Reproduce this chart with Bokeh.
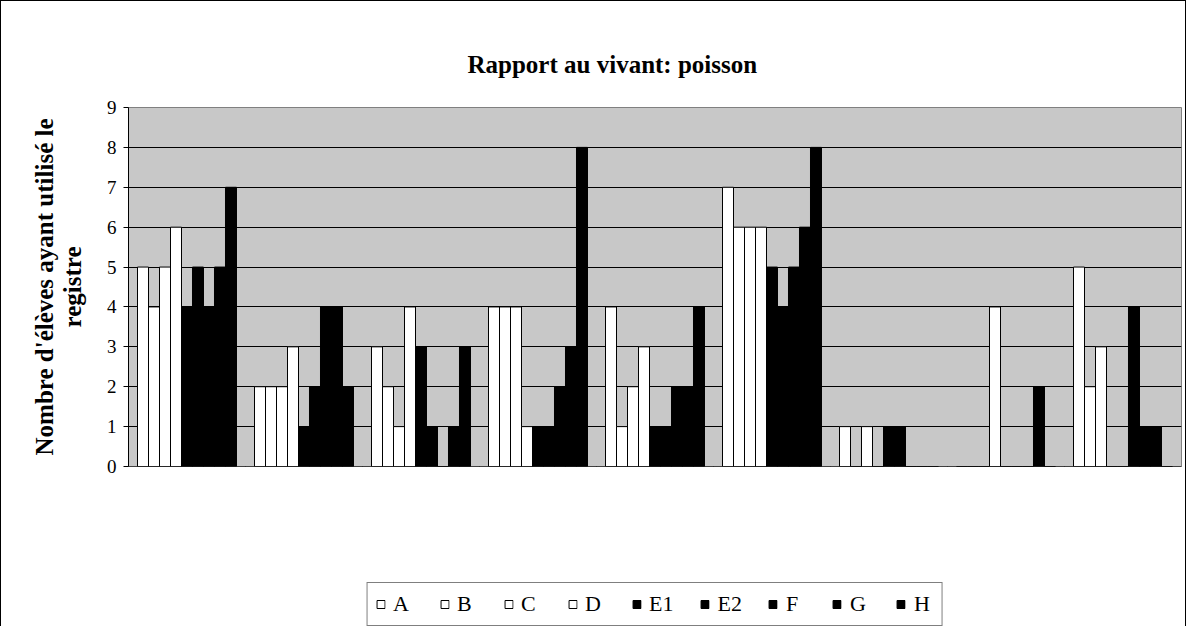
import numpy as np
from bokeh.plotting import figure
from bokeh.models import ColumnDataSource, FixedTicker, Range1d, Legend, LegendItem
from bokeh.transform import dodge
from bokeh.embed import file_html
from bokeh.resources import INLINE

categories = ["Aps", "AR", "Arp", "P", "Cc", "Ci", "Cs", "I", "A"]
series = ["A", "B", "C", "D", "E1", "E2", "F", "G", "H"]
A  = [5, 2, 3, 4, 4, 7, 1, 0, 5]
B  = [4, 2, 2, 4, 1, 6, 0, 0, 2]
C  = [5, 2, 1, 4, 2, 6, 1, 0, 3]
D  = [6, 3, 4, 1, 3, 6, 0, 4, 0]
E1 = [4, 1, 3, 1, 1, 5, 1, 0, 0]
E2 = [5, 2, 1, 1, 1, 4, 1, 0, 4]
F  = [4, 4, 0, 2, 2, 5, 0, 0, 1]
G  = [5, 4, 1, 3, 2, 6, 0, 2, 1]
H  = [7, 2, 3, 8, 4, 8, 0, 0, 0]
y_ticks = [0, 1, 2, 3, 4, 5, 6, 7, 8, 9]

values = {"A": A, "B": B, "C": C, "D": D, "E1": E1, "E2": E2, "F": F, "G": G, "H": H}
fills = {"A": "white", "B": "white", "C": "white", "D": "white",
         "E1": "black", "E2": "black", "F": "black", "G": "black", "H": "black"}

SERIF = "Liberation Serif"
n = len(categories)
centers = np.arange(n) + 0.5
data = {"x": centers}
data.update(values)
src = ColumnDataSource(data)

p = figure(frame_width=1053, frame_height=359, x_range=Range1d(0, n), y_range=Range1d(0, 9),
           output_backend="svg", toolbar_location=None,
           title="Rapport au vivant: poisson",
           min_border_left=127, min_border_right=4, min_border_top=106, min_border_bottom=158)
p.styles = {"border": "1px solid black"}
p.background_fill_color = "#C8C8C8"
p.border_fill_color = "white"
p.outline_line_color = "#808080"

p.title.align = "left"
p.title.vertical_align = "top"
p.title.offset = 339
p.title.standoff = 55
p.title.text_font = SERIF
p.title.text_font_style = "bold"
p.title.text_font_size = "25px"
p.title.text_color = "black"

bw = 0.094
items = []
for i, s in enumerate(series):
    r = p.vbar(x=dodge("x", (i - 4) * bw, range=p.x_range), top=s, width=bw, source=src,
               fill_color=fills[s], line_color="black", line_width=1)
    items.append(LegendItem(label=s, renderers=[r]))

# axes
p.xgrid.grid_line_color = None
p.ygrid.grid_line_color = "black"
p.ygrid.grid_line_width = 1

xax = p.xaxis[0]
xax.fixed_location = 0
xax.ticker = FixedTicker(ticks=list(centers), minor_ticks=list(range(n + 1)))
xax.major_label_overrides = {float(c): lab for c, lab in zip(centers, categories)}
xax.major_tick_out = 0
xax.major_tick_in = 0
xax.minor_tick_out = 5
xax.minor_tick_in = 0
xax.minor_tick_line_color = "black"
xax.axis_line_color = "black"
xax.major_label_standoff = 17
xax.major_label_text_font = SERIF
xax.major_label_text_font_style = "bold"
xax.major_label_text_font_size = "19px"
xax.major_label_text_color = "black"
xax.axis_label = "Registres"
xax.axis_label_text_font = SERIF
xax.axis_label_text_font_style = "bold"
xax.axis_label_text_font_size = "24px"
xax.axis_label_text_color = "black"
xax.axis_label_standoff = 10

p.yaxis.ticker = FixedTicker(ticks=y_ticks, minor_ticks=[])
p.yaxis.major_tick_out = 5
p.yaxis.major_tick_in = 0
p.yaxis.major_tick_line_color = "black"
p.yaxis.axis_line_color = "black"
p.yaxis.major_label_standoff = 7
p.yaxis.major_label_text_font = SERIF
p.yaxis.major_label_text_font_size = "19px"
p.yaxis.major_label_text_color = "black"
p.yaxis.axis_label = "Nombre d'élèves ayant utilisé le\nregistre"
p.yaxis.axis_label_text_font = SERIF
p.yaxis.axis_label_text_font_style = "bold"
p.yaxis.axis_label_text_font_size = "25px"
p.yaxis.axis_label_text_color = "black"
p.yaxis.axis_label_text_line_height = 1.05
p.yaxis.axis_label_standoff = 18

legend = Legend(items=items, orientation="horizontal", location="top_center")
legend.border_line_color = "black"
legend.border_line_width = 1
legend.background_fill_color = "white"
legend.background_fill_alpha = 1
legend.label_text_font = SERIF
legend.label_text_font_size = "22px"
legend.label_text_color = "black"
legend.glyph_width = 10
legend.glyph_height = 10
legend.label_standoff = 8
legend.spacing = 26
legend.padding = 8
legend.margin = 116
# legend panel sits right under the frame; the x axis is pinned to y = 0 of the frame
p.below = [legend, xax]

open("out.html", "w").write(file_html(p, INLINE))
